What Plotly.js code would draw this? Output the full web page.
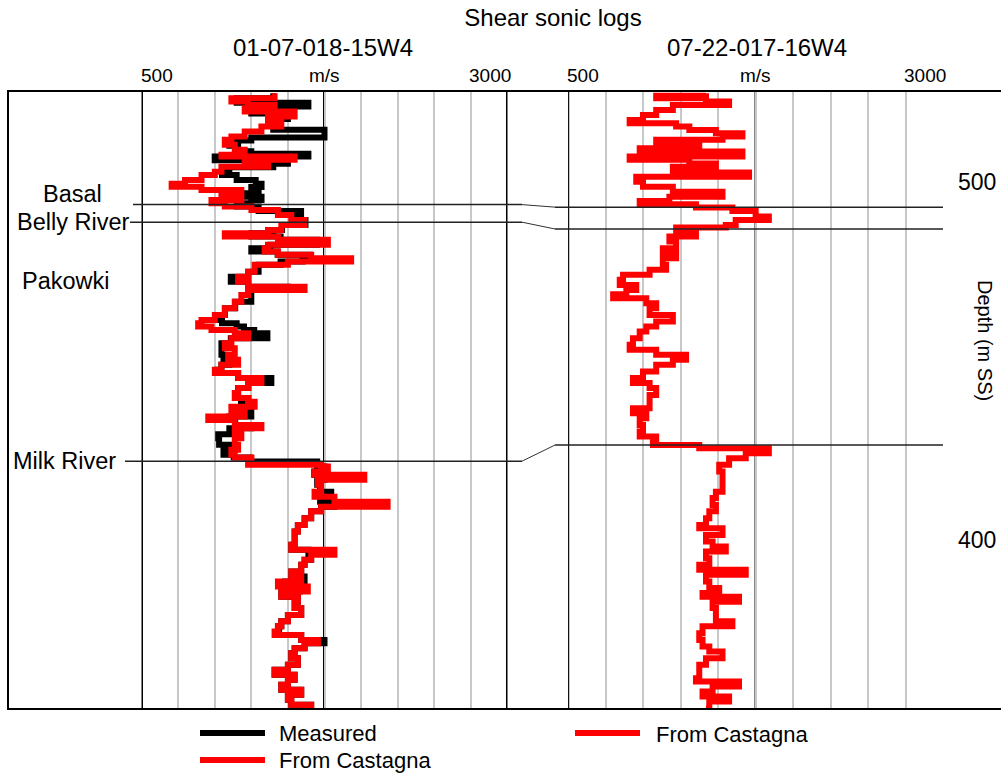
<!DOCTYPE html>
<html>
<head>
<meta charset="utf-8">
<script src="https://cdn.plot.ly/plotly-3.0.1.min.js"></script>
<style>
html,body{margin:0;padding:0;background:#fff;}
#chart{width:1001px;height:773px;}
</style>
</head>
<body>
<div id="chart"></div>
<script>
// ---------------- DATA ----------------
// Well 01-07-018-15W4 : From Castagna (red)
const depthCastagnaL = [
524.7,523.3,522.4,521.4,520.5,519.6,518.2,516.8,515.4,514.0,
512.6,511.7,510.3,508.9,507.5,507.0,506.1,505.1,504.2,502.8,
501.9,500.5,499.4,498.6,497.7,496.8,495.8,494.9,494.0,493.1,
492.1,490.7,489.3,487.9,486.5,485.6,484.7,483.8,482.4,481.4,
480.5,479.6,478.6,477.7,476.8,474.9,473.5,472.1,470.7,469.8,
468.4,466.5,464.7,462.8,461.4,460.5,459.6,458.6,457.7,456.3,
454.9,453.5,451.7,450.3,448.9,447.5,446.6,445.2,443.8,442.4,
441.0,439.6,438.6,437.2,435.9,434.5,433.5,432.1,431.2,429.8,
428.4,426.6,425.2,423.8,423.0,421.9,421.0,420.5,419.1,418.2,
416.8,415.4,413.5,412.1,410.7,409.3,408.0,406.1,404.2,402.4,
400.5,398.7,397.3,395.9,394.5,393.1,391.2,389.8,388.4,387.0,
385.6,384.2,382.8,381.0,379.1,377.3,375.9,374.5,373.5,372.1,
371.2,369.8,368.4,367.0,365.2,363.8,362.4,361.0,359.6,358.2,
356.8,355.4,354.0,353.0];
const velCastagnaL = [
1409,1114,1228,1409,1205,1546,1364,1455,1319,1205,
1114,1069,1137,1205,1046,1546,1205,1364,1046,1001,
910,797,706,910,1182,1046,1182,978,1069,1251,
1432,1523,1614,1455,1364,1069,1432,1773,1364,1341,
1432,1659,1932,1500,1273,1228,1160,1228,1614,1228,
1182,1137,1069,1001,910,887,978,1137,1228,1114,
1069,1137,1092,1160,1046,1001,1160,1319,1228,1160,
1137,1228,1273,1114,1205,956,1137,1319,1137,1182,
1137,1160,1114,1137,1251,1228,1727,1773,1682,2022,
1705,1727,1682,1818,2181,1727,1659,1614,1568,1546,
1546,1523,1818,1659,1614,1591,1523,1591,1432,1636,
1455,1568,1546,1591,1500,1455,1432,1409,1591,1705,
1614,1546,1523,1568,1500,1409,1546,1500,1455,1591,
1500,1523,1659,1600];

// Well 01-07-018-15W4 : Measured (black)
const depthMeasuredL = [
524.7,523.3,522.0,521.0,520.0,519.0,517.5,516.5,515.5,514.5,
513.2,512.3,511.5,510.0,508.5,507.8,507.0,506.0,505.0,504.0,
502.8,501.9,500.5,499.4,498.5,497.7,496.8,495.8,494.9,494.0,
493.1,491.8,490.7,489.3,487.9,486.5,485.6,484.7,483.8,482.4,
481.4,480.5,479.6,478.6,477.7,476.8,474.9,473.5,472.1,470.7,
469.8,468.4,466.5,464.7,462.8,461.4,460.5,459.6,458.6,457.7,
456.3,454.9,453.5,451.7,450.3,448.9,447.5,446.6,445.2,443.8,
442.4,441.0,439.6,438.2,436.0,434.5,433.5,432.1,431.2,429.5,
428.4,426.6,425.2,423.8,423.0,421.9,420.5,419.1,418.2,416.8,
415.4,413.5,412.1,410.7,409.3,408.0,406.1,404.2,402.4,400.5,
398.7,397.3,395.9,394.5,393.1,391.2,389.8,388.4,387.0,385.6,
384.2,382.8,381.0,379.1,377.3,375.9,374.5,373.5,372.1,371.2,
369.8,368.4,367.0,365.2,363.8,362.4,361.0,359.6,358.2,356.8,
355.4,354.0,353.0];
const velMeasuredL = [
1400,1150,1640,1400,1250,1500,1380,1450,1400,1750,
1750,1250,1100,1160,1250,1640,1000,1500,1400,1100,
1050,1150,1280,1320,1250,1300,1200,1320,1250,1150,
1300,1590,1530,1620,1460,1400,1250,1450,1700,1380,
1250,1430,1650,1600,1450,1300,1230,1110,1230,1500,
1230,1250,1140,1070,1030,1050,1150,1200,1270,1360,
1110,1046,1046,1060,1100,1046,1020,1160,1387,1230,
1160,1140,1230,1180,1250,1100,1140,1250,1100,1024,
1030,1100,1060,1130,1240,1700,1750,1680,1750,1700,
1720,1796,1720,1818,1727,1659,1614,1568,1546,1546,
1523,1640,1659,1614,1591,1523,1614,1480,1580,1455,
1568,1546,1591,1500,1455,1432,1440,1591,1750,1614,
1546,1523,1568,1500,1409,1546,1500,1455,1591,1500,
1523,1659,1600];

// Well 07-22-017-16W4 : From Castagna (red)
const depthCastagnaR = [
524.7,524.0,523.3,522.4,521.4,520.0,518.6,517.2,516.3,515.4,
514.4,513.5,512.6,511.7,510.3,509.3,508.4,507.0,506.1,505.1,
504.2,502.6,501.4,500.0,498.6,497.2,495.8,494.6,493.7,492.8,
491.8,490.3,489.3,487.9,487.2,486.1,484.7,483.3,481.4,480.0,
478.6,476.8,475.4,474.0,472.6,471.2,469.8,468.6,467.5,466.1,
464.7,462.8,461.0,459.6,458.2,456.3,454.5,453.1,451.7,450.3,
448.9,447.0,445.2,443.8,442.4,440.5,439.1,436.8,435.4,434.0,
432.1,430.3,428.9,427.5,426.5,425.6,424.2,422.8,421.0,419.1,
417.3,415.4,413.5,411.7,409.8,408.0,406.1,404.2,403.3,401.4,
399.6,398.2,396.8,394.9,393.1,391.7,390.3,388.4,386.6,385.2,
384.2,382.8,381.0,379.1,377.3,375.9,374.0,372.1,370.3,368.9,
367.0,365.2,363.3,361.4,360.5,359.1,357.7,356.3,354.9,353.5,
353.0];
const velCastagnaR = [
1420,1088,1420,1574,1199,1088,1000,911,1221,1309,
1486,1663,1530,1088,1375,978,1663,911,1309,1486,
1199,1707,955,1000,1199,1530,1176,978,1353,1596,
1751,1839,1618,1552,1221,1353,1176,1221,1132,1221,
1132,1154,1044,867,845,955,889,801,1022,1088,
1044,1199,1088,1022,978,933,911,1088,1287,1199,
1088,1000,933,1044,1088,1044,1044,933,1022,978,
1000,978,1088,1066,1375,1839,1685,1574,1508,1530,
1530,1530,1486,1464,1486,1442,1420,1375,1530,1420,
1464,1552,1420,1442,1375,1685,1420,1442,1508,1397,
1640,1464,1486,1486,1596,1397,1375,1397,1442,1530,
1420,1375,1375,1353,1640,1464,1397,1574,1442,1442,
1420];

// Formation tops (depth, m SS)
const topNames   = ['Basal', 'Belly River', 'Milk River'];
const topDepthL  = [493.6, 488.7, 422.0];
const topDepthR  = [492.9, 486.8, 426.5];

// Tick labels
const tickVals   = [500, 1750, 3000];
const tickText   = ['500', 'm/s', '3000'];
const wellNames  = ['01-07-018-15W4', '07-22-017-16W4'];
const depthTicks = [400, 500];

// ---------------- LAYOUT ----------------
const W = 1001, H = 773;
const px = x => x / W;
const py = y => 1 - y / H;
const FONT = 'Liberation Sans, Arial, Helvetica, sans-serif';
const TOP = 91, BOT = 709;

const traces = [
  {x: velMeasuredL, y: depthMeasuredL, xaxis: 'x', yaxis: 'y', mode: 'lines',
   name: 'Measured', line: {color: '#000000', width: 6, shape: 'vh'}, showlegend: false},
  {x: velCastagnaL, y: depthCastagnaL, xaxis: 'x', yaxis: 'y', mode: 'lines',
   name: 'From Castagna', line: {color: '#ff0000', width: 6, shape: 'vh'}, showlegend: false},
  {x: velCastagnaR, y: depthCastagnaR, xaxis: 'x2', yaxis: 'y', mode: 'lines',
   name: 'From Castagna', line: {color: '#ff0000', width: 6, shape: 'vh'}, showlegend: false}
];

const shapes = [];
// outer frame
shapes.push({type:'line', xref:'paper', yref:'paper', x0:px(7), x1:1, y0:py(TOP), y1:py(TOP), line:{color:'#000', width:2}, layer:'above'});
shapes.push({type:'line', xref:'paper', yref:'paper', x0:px(7), x1:1, y0:py(BOT), y1:py(BOT), line:{color:'#000', width:2}, layer:'above'});
shapes.push({type:'line', xref:'paper', yref:'paper', x0:px(8), x1:px(8), y0:py(TOP), y1:py(BOT), line:{color:'#000', width:2}, layer:'above'});
// track boundaries
tickVals.forEach(v => {
  shapes.push({type:'line', xref:'x', yref:'paper', x0:v, x1:v, y0:py(BOT), y1:py(TOP), line:{color:'#000', width:3}, layer:'between'});
});
[500, 1750].forEach((v, i) => {
  shapes.push({type:'line', xref:'x2', yref:'paper', x0:v, x1:v, y0:py(BOT), y1:py(TOP), line:{color:'#111', width: i === 0 ? 2.5 : 2}, layer:'between'});
});
// formation correlation lines
const leftStart = [133, 130, 125];
topNames.forEach((n, i) => {
  shapes.push({type:'line', xref:'paper', yref:'y', x0:px(leftStart[i]), x1:px(522), y0:topDepthL[i], y1:topDepthL[i], line:{color:'#222', width:1.5}, layer:'above'});
  shapes.push({type:'line', xref:'paper', yref:'y', x0:px(522), x1:px(555), y0:topDepthL[i], y1:topDepthR[i], line:{color:'#333', width:1}, layer:'above'});
  shapes.push({type:'line', xref:'paper', yref:'y', x0:px(555), x1:px(943), y0:topDepthR[i], y1:topDepthR[i], line:{color:'#222', width:1.5}, layer:'above'});
});
// legend samples
shapes.push({type:'line', xref:'paper', yref:'paper', x0:px(200), x1:px(265), y0:py(733), y1:py(733), line:{color:'#000', width:6}});
shapes.push({type:'line', xref:'paper', yref:'paper', x0:px(200), x1:px(265), y0:py(760), y1:py(760), line:{color:'#ff0000', width:6}});
shapes.push({type:'line', xref:'paper', yref:'paper', x0:px(575), x1:px(640), y0:py(733), y1:py(733), line:{color:'#ff0000', width:6}});

const ann = [];
const tf = (s) => ({family: FONT, size: s, color: '#000'});
// well names
ann.push({xref:'paper', yref:'paper', x:px(323), y:py(47), text:wellNames[0], showarrow:false, xanchor:'center', yanchor:'middle', font:tf(24)});
ann.push({xref:'paper', yref:'paper', x:px(757), y:py(47), text:wellNames[1], showarrow:false, xanchor:'center', yanchor:'middle', font:tf(24)});
// scale labels
['x', 'x2'].forEach(ax => {
  tickVals.forEach((v, i) => {
    ann.push({xref:ax, yref:'paper', x:v, y:py(76), text:tickText[i], showarrow:false,
      xanchor: i === 0 ? 'left' : (i === 2 ? 'right' : 'center'),
      xshift: i === 0 ? -3 : (i === 2 ? 5 : 0),
      yanchor:'middle', font:tf(19)});
  });
});
// formation names
ann.push({xref:'paper', yref:'paper', x:px(72), y:py(194), text:'Basal', showarrow:false, xanchor:'center', yanchor:'middle', font:tf(23.5)});
ann.push({xref:'paper', yref:'paper', x:px(73), y:py(222), text:'Belly River', showarrow:false, xanchor:'center', yanchor:'middle', font:tf(23.5)});
ann.push({xref:'paper', yref:'paper', x:px(66), y:py(281), text:'Pakowki', showarrow:false, xanchor:'center', yanchor:'middle', font:tf(23.5)});
ann.push({xref:'paper', yref:'paper', x:px(64), y:py(461), text:'Milk River', showarrow:false, xanchor:'center', yanchor:'middle', font:tf(23.5)});
// depth axis title
ann.push({xref:'paper', yref:'paper', x:px(985), y:py(340), text:'Depth (m SS)', textangle:90, showarrow:false, xanchor:'center', yanchor:'middle', font:tf(20)});
// legend texts
ann.push({xref:'paper', yref:'paper', x:px(278), y:py(733), text:'Measured', showarrow:false, xanchor:'left', yanchor:'middle', borderpad:0, font:tf(22)});
ann.push({xref:'paper', yref:'paper', x:px(278), y:py(760), text:'From Castagna', showarrow:false, xanchor:'left', yanchor:'middle', borderpad:0, font:tf(22)});
ann.push({xref:'paper', yref:'paper', x:px(655), y:py(734), text:'From Castagna', showarrow:false, xanchor:'left', yanchor:'middle', borderpad:0, font:tf(22)});

const gridAxis = (dom) => ({
  domain: dom, range: [500, 3000], anchor: 'y',
  tickmode: 'linear', tick0: 500, dtick: 250,
  showgrid: true, gridcolor: '#c8c8c8', gridwidth: 2,
  showticklabels: false, ticks: '', showline: false, zeroline: false, fixedrange: true
});

const layout = {
  width: W, height: H,
  margin: {l:0, r:0, t:0, b:0},
  paper_bgcolor: '#fff', plot_bgcolor: 'rgba(0,0,0,0)',
  font: {family: FONT, color: '#000'},
  title: {text: 'Shear sonic logs', x: px(553), y: py(18), xref: 'container', yref: 'container',
          xanchor: 'center', yanchor: 'middle', font: {family: FONT, size: 24, color: '#000'}},
  showlegend: false,
  xaxis: gridAxis([px(141.5), px(507.5)]),
  xaxis2: gridAxis([px(568), px(943)]),
  yaxis: {
    domain: [py(BOT), py(TOP)], range: [352.84, 525.31],
    anchor: 'free', position: px(957), side: 'right',
    tickmode: 'array', tickvals: depthTicks, ticktext: depthTicks.map(String),
    tickfont: {family: FONT, size: 23, color: '#000'},
    showgrid: false, zeroline: false, showline: false, ticks: '', fixedrange: true
  },
  shapes: shapes,
  annotations: ann
};

Plotly.newPlot('chart', traces, layout, {displayModeBar: false, staticPlot: true});
</script>
</body>
</html>
